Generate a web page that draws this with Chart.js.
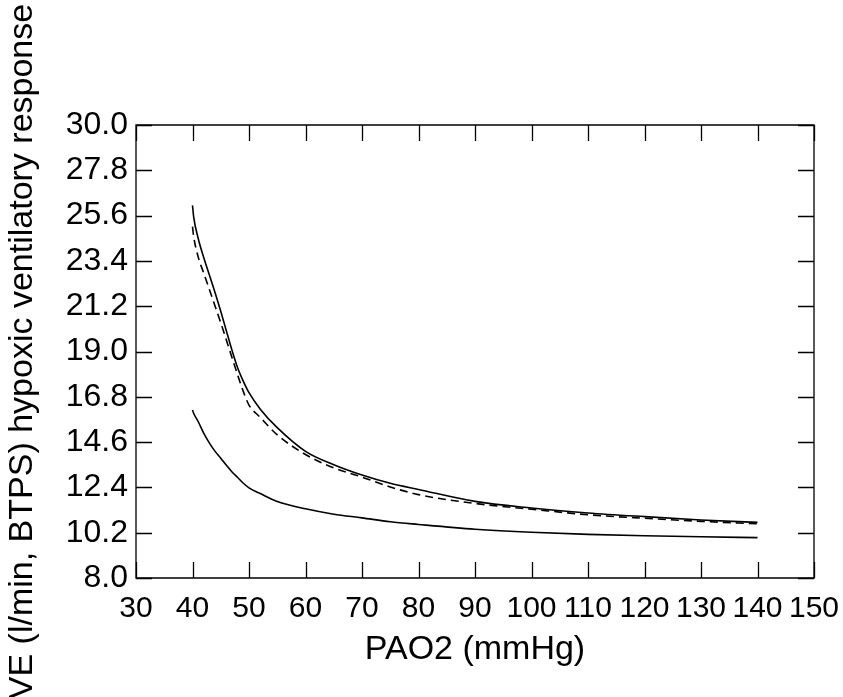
<!DOCTYPE html>
<html>
<head>
<meta charset="utf-8">
<script src="https://cdn.jsdelivr.net/npm/chart.js@4/dist/chart.umd.min.js"></script>
<style>
  html, body { margin: 0; padding: 0; background: #fff; }
  #wrap { width: 843px; height: 697px; }
</style>
</head>
<body>
<div id="wrap"><canvas id="c" width="843" height="697"></canvas></div>
<script>
// ---- data ----
const pao2 = [40, 40.2, 41, 42, 43, 44, 45, 46, 47, 48, 49, 50, 52, 55, 60, 65, 70, 75, 80, 90, 100, 110, 120, 130, 140];
const veUpper = [26.1, 25.55, 24.5, 23.55, 22.7, 21.85, 20.95, 20.0, 19.05, 18.2, 17.55, 17.0, 16.2, 15.3, 14.15, 13.5, 13.0, 12.6, 12.3, 11.72, 11.4, 11.16, 10.98, 10.82, 10.7];
const veDashed = [25.06, 24.6, 23.6, 22.8, 22.0, 21.2, 20.4, 19.55, 18.7, 17.85, 17.05, 16.4, 15.8, 14.95, 14.0, 13.35, 12.9, 12.42, 12.05, 11.62, 11.34, 11.07, 10.9, 10.75, 10.63];
const veLower = [16.16, 16.0, 15.6, 15.02, 14.55, 14.15, 13.82, 13.47, 13.15, 12.88, 12.6, 12.38, 12.1, 11.72, 11.36, 11.1, 10.92, 10.73, 10.6, 10.37, 10.22, 10.12, 10.05, 10.0, 9.96];
const xTicks = [30, 40, 50, 60, 70, 80, 90, 100, 110, 120, 130, 140, 150];
const yTicks = [8.0, 10.2, 12.4, 14.6, 16.8, 19.0, 21.2, 23.4, 25.6, 27.8, 30.0];
const xTitle = 'PAO2 (mmHg)';
const yTitle = 'VE (l/min, BTPS) hypoxic ventilatory response';

const pts = ys => pao2.map((x, i) => ({ x: x, y: ys[i] }));
const FONT = "'Liberation Sans', Arial, Helvetica, sans-serif";

const frameTicks = {
  id: 'frameTicks',
  afterDatasetsDraw(chart) {
    const { ctx, chartArea: a, scales } = chart;
    const L = 16;
    ctx.save();
    ctx.strokeStyle = '#000';
    ctx.lineWidth = 1.3;
    ctx.beginPath();
    ctx.rect(a.left, a.top, a.right - a.left, a.bottom - a.top);
    ctx.stroke();
    ctx.beginPath();
    scales.x.ticks.forEach(t => {
      const px = Math.round(scales.x.getPixelForValue(t.value)) + 0.5;
      ctx.moveTo(px, a.bottom); ctx.lineTo(px, a.bottom - L);
      ctx.moveTo(px, a.top); ctx.lineTo(px, a.top + L);
    });
    scales.y.ticks.forEach(t => {
      const py = Math.round(scales.y.getPixelForValue(t.value)) + 0.5;
      ctx.moveTo(a.left, py); ctx.lineTo(a.left + L, py);
      ctx.moveTo(a.right, py); ctx.lineTo(a.right - L, py);
    });
    ctx.stroke();
    ctx.restore();
  }
};

const ds = (data, dash) => ({
  data: data,
  borderColor: '#000',
  borderWidth: 1.6,
  borderDash: dash,
  pointRadius: 0,
  fill: false,
  cubicInterpolationMode: 'monotone'
});

new Chart(document.getElementById('c'), {
  type: 'line',
  data: {
    datasets: [ds(pts(veUpper), []), ds(pts(veDashed), [8, 5]), ds(pts(veLower), [])]
  },
  plugins: [frameTicks],
  options: {
    responsive: false,
    animation: false,
    layout: { padding: { left: 0, top: 125, right: 29, bottom: 0 } },
    plugins: { legend: { display: false }, tooltip: { enabled: false } },
    scales: {
      x: {
        type: 'linear',
        min: 30, max: 150,
        afterBuildTicks: s => { s.ticks = xTicks.map(v => ({ value: v })); },
        afterFit: s => { s.height = 119; s.paddingLeft = 0; s.paddingRight = 0; },
        grid: { display: false, drawTicks: false },
        border: { display: false },
        ticks: { color: '#000', font: { family: FONT, size: 30 }, padding: 13, maxRotation: 0, autoSkip: false, callback: v => String(v) },
        title: { display: true, text: xTitle, color: '#000', font: { family: FONT, size: 34 }, padding: { top: 0, bottom: 27 } }
      },
      y: {
        type: 'linear',
        min: 8, max: 30,
        afterBuildTicks: s => { s.ticks = yTicks.map(v => ({ value: v })); },
        afterFit: s => { s.width = 136; s.paddingTop = 0; s.paddingBottom = 0; },
        grid: { display: false, drawTicks: false },
        border: { display: false },
        ticks: { color: '#000', font: { family: FONT, size: 32 }, padding: 8, autoSkip: false, callback: v => Number(v).toFixed(1) },
        title: { display: true, text: yTitle, color: '#000', font: { family: FONT, size: 34 }, padding: { top: 2, bottom: 0 } }
      }
    }
  }
});
</script>
</body>
</html>
